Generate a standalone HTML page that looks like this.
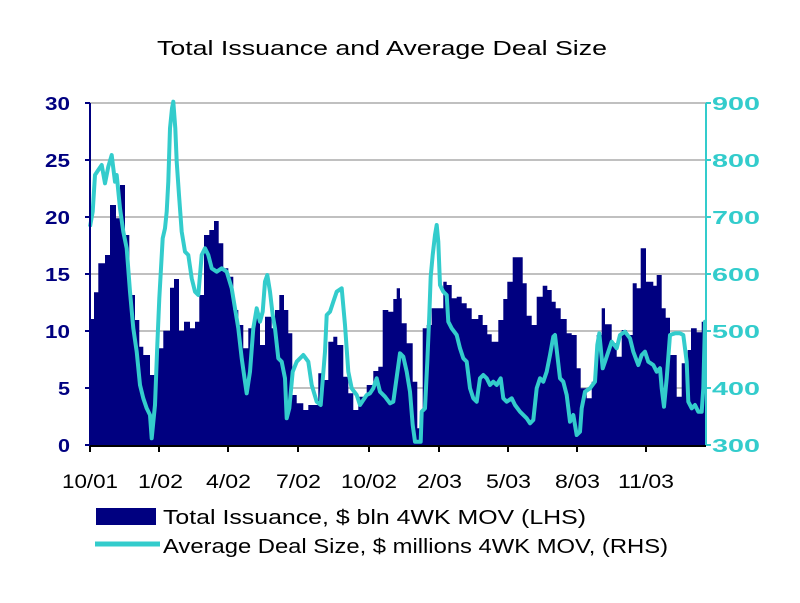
<!DOCTYPE html>
<html><head><meta charset="utf-8"><style>
body{margin:0;background:#fff;width:800px;height:603px;overflow:hidden}
svg{display:block}
text{font-family:"Liberation Sans",Arial,sans-serif}
</style></head><body>
<svg id="s" width="800" height="603" xmlns="http://www.w3.org/2000/svg">
<text x="157" y="55" font-size="20" textLength="450" lengthAdjust="spacingAndGlyphs" fill="#000">Total Issuance and Average Deal Size</text>
<g id="grid" stroke="#c0c0c0" stroke-width="2">
<line x1="90" x2="706" y1="103" y2="103"/><line x1="90" x2="706" y1="160" y2="160"/><line x1="90" x2="706" y1="217" y2="217"/><line x1="90" x2="706" y1="274" y2="274"/><line x1="90" x2="706" y1="331" y2="331"/><line x1="90" x2="706" y1="388" y2="388"/>
</g>
<path id="bars" fill="#000080"/>
<path id="ln" fill="none" stroke="#33cccc" stroke-width="4" stroke-linejoin="round"/>
<g stroke="#000080" stroke-width="2"><line x1="90" y1="103" x2="90" y2="446"/>
<line x1="85" x2="90" y1="103" y2="103"/><line x1="85" x2="90" y1="160" y2="160"/><line x1="85" x2="90" y1="217" y2="217"/><line x1="85" x2="90" y1="274" y2="274"/><line x1="85" x2="90" y1="331" y2="331"/><line x1="85" x2="90" y1="388" y2="388"/><line x1="85" x2="90" y1="445" y2="445"/></g>
<g stroke="#33cccc" stroke-width="2"><line x1="706" y1="103" x2="706" y2="446"/>
<line x1="706" x2="711" y1="103" y2="103"/><line x1="706" x2="711" y1="160" y2="160"/><line x1="706" x2="711" y1="217" y2="217"/><line x1="706" x2="711" y1="274" y2="274"/><line x1="706" x2="711" y1="331" y2="331"/><line x1="706" x2="711" y1="388" y2="388"/><line x1="706" x2="711" y1="445" y2="445"/></g>
<g stroke="#000" stroke-width="2"><line x1="90" x2="706" y1="446" y2="446"/>
<line x1="90" x2="90" y1="446" y2="452"/><line x1="159" x2="159" y1="446" y2="452"/><line x1="228" x2="228" y1="446" y2="452"/><line x1="298" x2="298" y1="446" y2="452"/><line x1="369" x2="369" y1="446" y2="452"/><line x1="439" x2="439" y1="446" y2="452"/><line x1="508" x2="508" y1="446" y2="452"/><line x1="577" x2="577" y1="446" y2="452"/><line x1="646" x2="646" y1="446" y2="452"/></g>
<g font-size="18" font-weight="bold" fill="#000080" lengthAdjust="spacingAndGlyphs">
<text x="45" y="110" textLength="25" lengthAdjust="spacingAndGlyphs">30</text><text x="45" y="167" textLength="25" lengthAdjust="spacingAndGlyphs">25</text><text x="45" y="224" textLength="25" lengthAdjust="spacingAndGlyphs">20</text><text x="45" y="281" textLength="25" lengthAdjust="spacingAndGlyphs">15</text><text x="45" y="338" textLength="25" lengthAdjust="spacingAndGlyphs">10</text><text x="58" y="395" textLength="12" lengthAdjust="spacingAndGlyphs">5</text><text x="58" y="452" textLength="12" lengthAdjust="spacingAndGlyphs">0</text></g>
<g font-size="18" font-weight="bold" fill="#33cccc">
<text x="712" y="110" textLength="48" lengthAdjust="spacingAndGlyphs">900</text><text x="712" y="167" textLength="48" lengthAdjust="spacingAndGlyphs">800</text><text x="712" y="224" textLength="48" lengthAdjust="spacingAndGlyphs">700</text><text x="712" y="281" textLength="48" lengthAdjust="spacingAndGlyphs">600</text><text x="712" y="338" textLength="48" lengthAdjust="spacingAndGlyphs">500</text><text x="712" y="395" textLength="48" lengthAdjust="spacingAndGlyphs">400</text><text x="712" y="452" textLength="48" lengthAdjust="spacingAndGlyphs">300</text></g>
<g font-size="19" fill="#000">
<text x="62" y="488" textLength="56" lengthAdjust="spacingAndGlyphs">10/01</text><text x="138" y="488" textLength="45" lengthAdjust="spacingAndGlyphs">1/02</text><text x="206" y="488" textLength="45" lengthAdjust="spacingAndGlyphs">4/02</text><text x="276" y="488" textLength="45" lengthAdjust="spacingAndGlyphs">7/02</text><text x="341" y="488" textLength="56" lengthAdjust="spacingAndGlyphs">10/02</text><text x="417" y="488" textLength="45" lengthAdjust="spacingAndGlyphs">2/03</text><text x="486" y="488" textLength="45" lengthAdjust="spacingAndGlyphs">5/03</text><text x="555" y="488" textLength="45" lengthAdjust="spacingAndGlyphs">8/03</text><text x="618" y="488" textLength="56" lengthAdjust="spacingAndGlyphs">11/03</text></g>
<rect x="96" y="508" width="60" height="17" fill="#000080"/>
<line x1="95" x2="160" y1="544" y2="544" stroke="#33cccc" stroke-width="5"/>
<g font-size="20" fill="#000"><text x="163" y="524" textLength="423" lengthAdjust="spacingAndGlyphs">Total Issuance, $ bln 4WK MOV (LHS)</text>
<text x="163" y="553" textLength="505" lengthAdjust="spacingAndGlyphs">Average Deal Size, $ millions 4WK MOV, (RHS)</text></g>
</svg>
<script>
var b1=[[30,672],[42,592],[55,505],[75,480],[90,330],[108,370],[120,270],[135,420],[148,600],[165,675],[178,755],[190,780],[210,840],[228,760],[250,707],[270,578],[282,552],[297,707],[312,680],[330,700],[345,680],[358,600],[372,420],[388,405],[402,378],[416,445],[430,520],[445,545],[460,645],[475,690],[490,760],[505,700],[525,660],[540,750],[555,665],[575,700],[585,645],[598,600],[612,645],[625,715],[637,900],[650,925],[670,945],[685,930],[715,835],[725,855],[745,740],[760,725],[772,750],[790,845],[805,895],[820,945],[835,905],[860,870],[880,828],[895,815],[908,645],[925,650],[940,612],[950,580]];
var b2=[[30,610],[35,685],[50,745],[68,860],[82,1000],[98,700],[110,690],[125,640],[160,560],[170,570],[185,610],[200,605],[215,625],[230,640],[245,672],[265,660],[278,690],[292,718],[305,740],[325,675],[340,612],[352,560],[368,487],[398,565],[410,662],[425,690],[440,605],[458,572],[472,585],[485,620],[497,640],[512,672],[530,715],[545,720],[560,820],[572,880],[590,910],[605,860],[620,720],[635,640],[645,688],[665,745],[680,785],[695,705],[710,720],[728,565],[740,580],[752,460],[768,560],[790,572],[800,540],[815,640],[827,668],[840,780],[860,905],[875,805],[893,765],[903,700],[920,712],[935,680],[948,680]];
var segs=[];b1.forEach(function(p){segs.push([80+p[0]/3,95+p[1]/3])});b2.forEach(function(p){segs.push([390+p[0]/3,95+p[1]/3])});
var d="M90,446";for(var i=0;i<segs.length;i++){var x=segs[i][0].toFixed(1),y=segs[i][1].toFixed(1);d+="L"+x+","+(i==0?y:segs[i-1][1].toFixed(1))+"L"+x+","+y;}
d+="L706,"+segs[segs.length-1][1].toFixed(1)+"L706,446Z";document.getElementById('bars').setAttribute('d',d);
var l1=[[30,395],[38,350],[45,240],[55,225],[65,210],[75,265],[85,215],[95,180],[100,220],[105,260],[110,240],[120,340],[130,410],[140,460],[150,590],[160,700],[170,770],[180,870],[190,910],[200,940],[210,960],[215,1030],[225,930],[232,750],[238,610],[248,430],[255,400],[260,350],[265,260],[270,100],[276,40],[280,20],[286,100],[290,200],[297,300],[305,410],[315,470],[325,480],[335,550],[345,590],[355,600],[365,480],[375,460],[385,480],[395,520],[410,530],[425,520],[440,530],[455,580],[465,640],[475,700],[485,790],[495,860],[500,895],[510,830],[520,700],[530,640],[540,680],[548,650],[555,560],[562,540],[570,590],[578,660],[585,700],[595,790],[605,800],[615,850],[620,970],[628,940],[638,830],[650,800],[670,780],[685,800],[695,870],[710,920],[722,930],[735,770],[740,660],[750,650],[760,620],[770,590],[785,580],[795,690],[805,830],[815,880],[830,900],[840,930],[850,915],[860,900],[870,895],[880,880],[890,850],[900,890],[915,905],[930,925],[940,920]];
var l2=[[30,775],[40,785],[50,830],[60,890],[68,990],[75,1040],[92,1040],[95,950],[105,940],[112,800],[118,660],[122,545],[128,480],[135,420],[140,390],[145,440],[150,570],[160,590],[170,600],[175,680],[185,700],[200,720],[210,760],[220,790],[230,800],[240,880],[250,910],[260,920],[270,850],[280,840],[290,850],[300,870],[310,860],[320,870],[332,850],[340,910],[350,920],[365,910],[375,930],[390,950],[410,970],[420,985],[430,975],[440,880],[450,850],[460,860],[470,830],[480,780],[490,725],[495,720],[502,780],[510,850],[520,860],[530,900],[540,980],[550,960],[560,1020],[570,1010],[575,940],[585,890],[600,880],[615,860],[622,750],[628,715],[638,820],[645,800],[655,770],[665,740],[680,760],[690,720],[705,710],[720,730],[730,770],[745,810],[755,780],[765,770],[775,800],[790,810],[800,830],[810,820],[815,880],[822,935],[830,850],[840,720],[855,715],[870,715],[880,720],[890,800],[895,920],[905,940],[915,930],[925,950],[935,950],[940,880],[945,680],[948,680]];
var pts=[];l1.forEach(function(p){pts.push((80+p[0]/3).toFixed(1)+","+(95+p[1]/3).toFixed(1))});l2.forEach(function(p){pts.push((390+p[0]/3).toFixed(1)+","+(95+p[1]/3).toFixed(1))});
document.getElementById('ln').setAttribute('d',"M"+pts.join("L"));
</script>
</body></html>
